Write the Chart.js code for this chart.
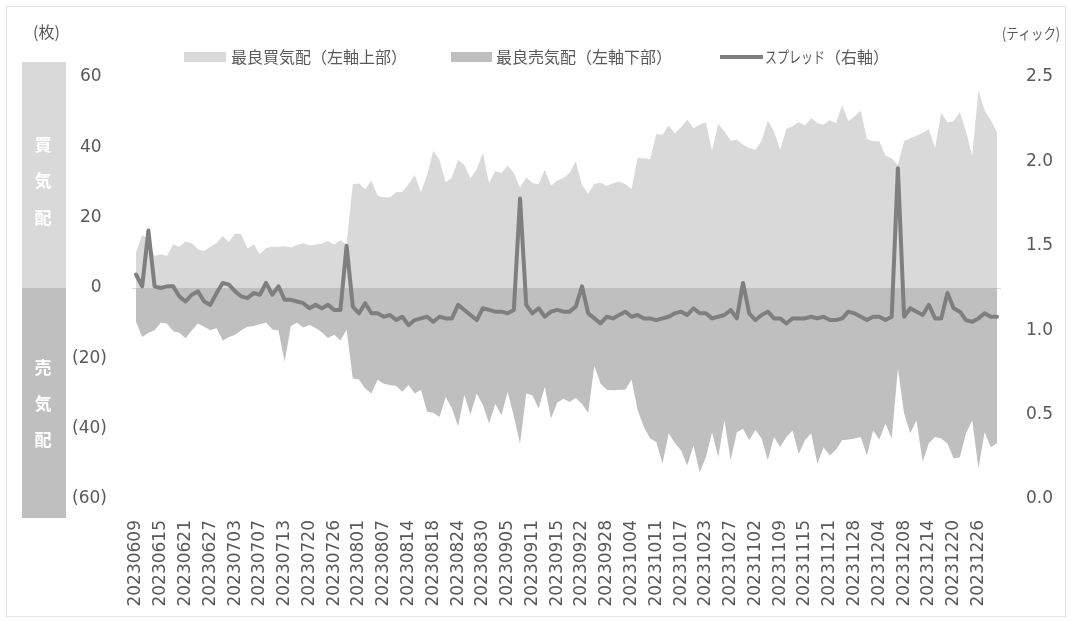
<!DOCTYPE html>
<html>
<head>
<meta charset="utf-8">
<script src="https://cdn.jsdelivr.net/npm/chart.js@4.4.1/dist/chart.umd.min.js"></script>
<style>
  html, body { margin: 0; padding: 0; background: #fff; }
  #wrap { width: 1071px; height: 621px; position: relative; }
</style>
</head>
<body>
<div id="wrap"><canvas id="c" width="1071" height="621"></canvas></div>
<script>
// Trading days, June-December 2023
const dates = [
  "20230609","20230612","20230613","20230614","20230615","20230616","20230619","20230620","20230621","20230622","20230623","20230626","20230627","20230628","20230629","20230630",
  "20230703","20230704","20230705","20230706","20230707","20230710","20230711","20230712","20230713","20230714","20230718","20230719","20230720","20230721","20230724","20230725","20230726","20230727","20230728","20230731",
  "20230801","20230802","20230803","20230804","20230807","20230808","20230809","20230810","20230814","20230815","20230816","20230817","20230818","20230821","20230822","20230823","20230824","20230825","20230828","20230829","20230830","20230831",
  "20230901","20230904","20230905","20230906","20230907","20230908","20230911","20230912","20230913","20230914","20230915","20230919","20230920","20230921","20230922","20230925","20230926","20230927","20230928","20230929",
  "20231002","20231003","20231004","20231005","20231006","20231010","20231011","20231012","20231013","20231016","20231017","20231018","20231019","20231020","20231023","20231024","20231025","20231026","20231027","20231030","20231031",
  "20231101","20231102","20231106","20231107","20231108","20231109","20231110","20231113","20231114","20231115","20231116","20231117","20231120","20231121","20231122","20231124","20231127","20231128","20231129","20231130",
  "20231201","20231204","20231205","20231206","20231207","20231208","20231211","20231212","20231213","20231214","20231215","20231218","20231219","20231220","20231221","20231222","20231225","20231226","20231227","20231228","20231229"
];

// Best bid quantity (lots), upper half of the left axis
const bestBid = [
  10.1,15.1,13.9,9.1,9.6,9.1,12.4,11.7,13.2,12.7,11.0,10.5,11.7,12.7,14.8,13.1,
  15.5,15.3,11.2,12.4,9.6,11.3,11.7,11.7,11.9,11.5,12.2,12.7,12.1,12.4,12.6,13.4,12.4,13.6,12.5,29.5,
  29.7,28.1,30.5,26.2,25.8,25.8,27.2,27.3,29.5,32.1,27.2,32.1,39.0,36.4,30.0,31.4,36.4,35.0,31.2,33.8,38.4,29.8,
  33.3,32.7,34.8,32.7,28.6,31.5,29.8,29.5,33.6,29.1,30.6,31.3,32.7,36.0,29.3,26.8,29.6,29.9,29.0,29.8,
  30.3,29.6,28.1,37.1,36.9,36.7,43.8,43.6,46.2,43.9,45.7,47.9,45.4,46.4,47.1,39.0,46.6,44.5,41.9,42.2,40.7,
  39.8,39.3,41.9,47.6,44.5,39.3,45.2,46.0,47.1,46.2,48.3,46.9,46.4,47.7,46.9,51.9,47.5,48.8,50.5,42.4,
  41.7,41.7,37.6,36.9,35.0,41.7,42.6,43.3,44.1,45.2,39.8,49.8,47.1,47.4,50.0,44.5,37.6,56.2,50.5,47.7,44.2
];

// Best ask quantity (lots), plotted below zero on the left axis
const bestAsk = [
  -9.6,-13.9,-12.7,-12.0,-9.9,-10.1,-12.3,-12.7,-14.3,-12.1,-10.1,-11.0,-12.0,-11.4,-15.0,-13.9,
  -13.3,-12.0,-11.0,-10.8,-10.3,-9.8,-11.8,-12.1,-21.0,-10.8,-9.9,-11.2,-10.5,-11.4,-12.6,-14.2,-13.3,-14.9,-11.9,-25.7,
  -26.0,-28.6,-30.0,-26.1,-27.2,-27.6,-27.9,-29.5,-27.6,-30.0,-28.9,-35.2,-35.5,-36.7,-31.0,-34.3,-39.3,-30.4,-36.0,-30.0,-33.3,-38.5,
  -33.0,-36.2,-29.5,-36.5,-44.3,-30.0,-30.5,-34.3,-28.1,-37.1,-32.6,-31.5,-32.4,-31.3,-33.0,-35.5,-22.1,-27.2,-28.9,-29.1,
  -28.9,-28.9,-26.0,-34.8,-39.5,-42.8,-43.8,-49.9,-41.3,-44.1,-46.2,-50.5,-44.7,-52.4,-48.1,-41.0,-48.1,-37.6,-49.0,-41.0,-40.0,
  -43.3,-40.3,-42.8,-49.0,-42.4,-45.2,-42.4,-40.5,-47.2,-43.3,-41.3,-50.0,-45.3,-47.6,-46.0,-43.3,-43.1,-42.8,-42.4,-47.6,
  -40.5,-43.1,-38.5,-42.8,-22.9,-35.6,-41.3,-37.6,-49.4,-44.1,-42.4,-42.8,-44.2,-48.5,-48.1,-41.3,-37.6,-51.3,-41.0,-45.3,-44.1
];

// Bid-ask spread (ticks), right axis
const spread = [
  1.33,1.26,1.59,1.26,1.25,1.26,1.26,1.20,1.17,1.21,1.23,1.17,1.15,1.22,1.28,1.27,
  1.23,1.20,1.19,1.22,1.21,1.28,1.21,1.26,1.18,1.18,1.17,1.16,1.13,1.15,1.13,1.15,1.12,1.12,1.50,1.14,
  1.10,1.16,1.10,1.10,1.08,1.09,1.06,1.08,1.03,1.06,1.07,1.08,1.05,1.08,1.07,1.07,1.15,1.12,1.09,1.06,1.13,1.12,
  1.11,1.11,1.10,1.12,1.78,1.15,1.10,1.13,1.08,1.11,1.12,1.11,1.11,1.14,1.26,1.10,1.07,1.04,1.08,1.07,
  1.09,1.11,1.08,1.09,1.07,1.07,1.06,1.07,1.08,1.10,1.11,1.09,1.13,1.10,1.10,1.07,1.08,1.09,1.12,1.07,1.28,
  1.10,1.06,1.09,1.11,1.07,1.07,1.04,1.07,1.07,1.07,1.08,1.07,1.08,1.06,1.06,1.07,1.11,1.10,1.08,1.06,
  1.08,1.08,1.06,1.08,1.96,1.08,1.13,1.11,1.09,1.15,1.07,1.07,1.22,1.13,1.11,1.06,1.05,1.07,1.10,1.08,1.08
];

const seriesNames = ["最良買気配（左軸上部）", "最良売気配（左軸下部）", "スプレッド（右軸）"];
const leftUnit = "(枚)";
const rightUnit = "(ティック)";
const bidSideChars = ["買", "気", "配"];
const askSideChars = ["売", "気", "配"];

const TEXT_COLOR = "#595959";
const BID_COLOR = "#d9d9d9";
const ASK_COLOR = "#bfbfbf";
const SPREAD_COLOR = "#7f7f7f";
const NUM_FONT = { family: "'DejaVu Sans', 'Noto Sans CJK JP', sans-serif", size: 17 };
const JP_FONT = "'Noto Sans CJK JP', 'DejaVu Sans', sans-serif";

// Frame, side band, unit captions, legend and the zero baseline
const decor = {
  id: "decor",
  beforeDraw(chart) {
    const ctx = chart.ctx;
    ctx.save();
    ctx.fillStyle = "#ffffff";
    ctx.fillRect(0, 0, chart.width, chart.height);
    ctx.strokeStyle = "#e3e3e3";
    ctx.lineWidth = 1;
    ctx.strokeRect(6.5, 6.5, 1059, 610);
    ctx.restore();
  },
  beforeDatasetsDraw(chart) {
    const ctx = chart.ctx;
    const y0 = Math.round(chart.scales.y.getPixelForValue(0)) + 0.5;
    ctx.save();
    ctx.strokeStyle = "#d9d9d9";
    ctx.lineWidth = 1;
    ctx.beginPath();
    ctx.moveTo(chart.chartArea.left - 4, y0);
    ctx.lineTo(chart.chartArea.right + 4, y0);
    ctx.stroke();
    ctx.restore();
  },
  afterDraw(chart) {
    const ctx = chart.ctx;
    const ys = chart.scales.y;
    const yZero = ys.getPixelForValue(0);
    ctx.save();

    // side band marking the bid (upper) and ask (lower) halves
    ctx.fillStyle = BID_COLOR;
    ctx.fillRect(22, 62, 44, yZero - 62);
    ctx.fillStyle = ASK_COLOR;
    ctx.fillRect(22, yZero, 44, 518 - yZero);
    ctx.fillStyle = "#ffffff";
    ctx.font = "bold 17px " + JP_FONT;
    ctx.textAlign = "center";
    ctx.textBaseline = "middle";
    [145, 181, 218].forEach((y, i) => ctx.fillText(bidSideChars[i], 43, y));
    [368, 404, 440].forEach((y, i) => ctx.fillText(askSideChars[i], 43, y));

    // axis unit captions
    ctx.fillStyle = TEXT_COLOR;
    ctx.font = "16px " + JP_FONT;
    ctx.textAlign = "left";
    ctx.fillText(leftUnit, 33, 32);
    ctx.font = "15px " + JP_FONT;
    ctx.textAlign = "right";
    ctx.fillText(rightUnit, 1060, 33, 58);

    // legend
    const ly = 57;
    const ds = chart.data.datasets;
    ctx.textAlign = "left";
    ctx.font = "16px " + JP_FONT;
    ctx.fillStyle = ds[0].backgroundColor;
    ctx.fillRect(184, ly - 5, 42, 10);
    ctx.fillStyle = TEXT_COLOR;
    ctx.fillText(ds[0].label, 231, ly);

    ctx.fillStyle = ds[1].backgroundColor;
    ctx.fillRect(451, ly - 5, 41, 10);
    ctx.fillStyle = TEXT_COLOR;
    ctx.fillText(ds[1].label, 496, ly);

    ctx.strokeStyle = ds[2].borderColor;
    ctx.lineWidth = 4;
    ctx.beginPath();
    ctx.moveTo(720, ly);
    ctx.lineTo(763, ly);
    ctx.stroke();
    ctx.fillStyle = TEXT_COLOR;
    const lbl = ds[2].label;
    const cut = lbl.indexOf("（");
    ctx.fillText(lbl.slice(0, cut), 765, ly, 60);
    ctx.fillText(lbl.slice(cut), 825, ly);

    ctx.restore();
  }
};

new Chart(document.getElementById("c"), {
  type: "line",
  data: {
    labels: dates,
    datasets: [
      {
        label: seriesNames[0], data: bestBid, yAxisID: "y",
        fill: "origin", backgroundColor: BID_COLOR, borderColor: "rgba(0,0,0,0)",
        borderWidth: 0, pointRadius: 0, tension: 0, order: 2
      },
      {
        label: seriesNames[1], data: bestAsk, yAxisID: "y",
        fill: "origin", backgroundColor: ASK_COLOR, borderColor: "rgba(0,0,0,0)",
        borderWidth: 0, pointRadius: 0, tension: 0, order: 2
      },
      {
        label: seriesNames[2], data: spread, yAxisID: "y2",
        fill: false, borderColor: SPREAD_COLOR, backgroundColor: SPREAD_COLOR,
        borderWidth: 4, borderJoinStyle: "round", borderCapStyle: "round",
        pointRadius: 0, tension: 0, order: 1
      }
    ]
  },
  options: {
    responsive: false,
    animation: false,
    events: [],
    layout: { padding: { top: 77, left: 0, right: 0, bottom: 0 } },
    plugins: { legend: { display: false }, tooltip: { enabled: false } },
    scales: {
      x: {
        type: "category",
        offset: false,
        grid: { display: false },
        border: { display: false },
        ticks: {
          autoSkip: false, minRotation: 90, maxRotation: 90, padding: 13,
          font: NUM_FONT, color: TEXT_COLOR,
          callback: (v, i) => (i % 4 === 0 ? dates[i] : null)
        },
        afterFit: (s) => { s.height = 122; }
      },
      y: {
        position: "left", min: -60, max: 60,
        grid: { display: false },
        border: { display: false },
        ticks: {
          stepSize: 20, padding: 21, font: NUM_FONT, color: TEXT_COLOR,
          callback: (v) => (v < 0 ? "(" + (-v) + ")" : v + " ")
        },
        afterFit: (s) => { s.width = 136; }
      },
      y2: {
        position: "right", min: 0, max: 2.5,
        grid: { display: false },
        border: { display: false },
        ticks: {
          stepSize: 0.5, padding: 21, font: NUM_FONT, color: TEXT_COLOR,
          callback: (v) => v.toFixed(1)
        },
        afterFit: (s) => { s.width = 74; }
      }
    }
  },
  plugins: [decor]
});
</script>
</body>
</html>
